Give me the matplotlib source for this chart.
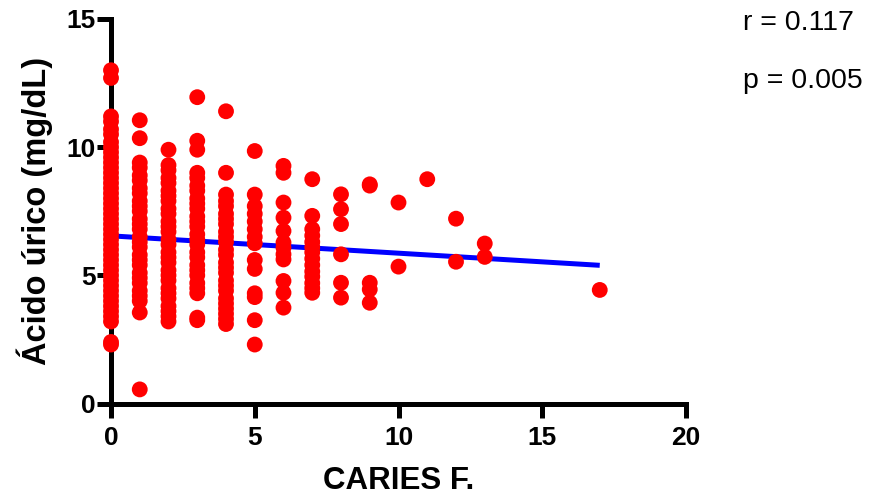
import numpy as np
import matplotlib
matplotlib.use("Agg")
import matplotlib.pyplot as plt

# Caries F. (x) y ácido úrico (mg/dL), por columna
caries_vals = [0, 1, 2, 3, 4, 5, 6, 7, 8, 9, 10, 11, 12, 13, 17]

acido_0 = [13.0, 12.7, 11.2, 11.0, 10.7, 10.5, 10.2, 10.0, 9.8, 9.6, 9.4, 9.2,
           9.0, 8.8, 8.6, 8.4, 8.2, 8.0, 7.8, 7.6, 7.4, 7.2, 7.0, 6.8, 6.6,
           6.4, 6.2, 6.0, 5.8, 5.6, 5.4, 5.2, 5.0, 4.8, 4.6, 4.4, 4.2, 4.0,
           3.8, 3.6, 3.4, 3.2, 2.4, 2.3]
acido_1 = [11.05, 10.35, 9.4, 9.2, 8.9, 8.7, 8.4, 8.2, 7.9, 7.7, 7.5, 7.2,
           7.0, 6.8, 6.5, 6.3, 6.1, 5.8, 5.6, 5.4, 5.1, 4.9, 4.7, 4.4, 4.2,
           4.0, 3.55, 0.55]
acido_2 = [9.9, 9.3, 9.1, 8.8, 8.6, 8.3, 8.1, 7.9, 7.6, 7.4, 7.1, 6.9, 6.7,
           6.4, 6.2, 5.9, 5.7, 5.5, 5.2, 5.0, 4.8, 4.5, 4.3, 4.1, 3.8, 3.6,
           3.4, 3.2]
acido_3 = [11.95, 10.25, 9.9, 9.0, 8.8, 8.5, 8.3, 8.0, 7.8, 7.6, 7.3, 7.1,
           6.9, 6.6, 6.4, 6.2, 5.9, 5.7, 5.4, 5.2, 5.0, 4.7, 4.5, 4.3, 3.35,
           3.25]
acido_4 = [11.4, 9.0, 8.15, 7.9, 7.7, 7.4, 7.2, 7.0, 6.7, 6.5, 6.3, 6.0, 5.8,
           5.5, 5.3, 5.1, 4.8, 4.6, 4.4, 4.1, 3.9, 3.7, 3.5, 3.3, 3.1]
acido_5 = [9.85, 8.15, 7.7, 7.4, 7.1, 6.8, 6.5, 6.25, 5.6, 5.25, 4.3, 4.15,
           3.25, 2.3]
acido_6 = [9.27, 9.0, 7.84, 7.25, 6.73, 6.28, 6.08, 5.82, 5.62, 4.78, 4.32,
           3.74]
acido_7 = [8.75, 7.32, 6.8, 6.55, 6.3, 6.1, 5.9, 5.65, 5.4, 5.15, 4.95, 4.7,
           4.5, 4.32]
acido_8 = [8.16, 7.58, 7.0, 5.82, 4.71, 4.13]
acido_9 = [8.55, 8.5, 4.71, 4.45, 3.93]
acido_10 = [7.84, 5.34]
acido_11 = [8.75]
acido_12 = [7.21, 5.53]
acido_13 = [6.24, 5.72]
acido_17 = [4.43]

columnas = [acido_0, acido_1, acido_2, acido_3, acido_4, acido_5, acido_6,
            acido_7, acido_8, acido_9, acido_10, acido_11, acido_12, acido_13,
            acido_17]

# Recta de regresión
intercepto = 6.54
pendiente = -0.0676
x_min_recta, x_max_recta = 0, 17

texto_r = "r = 0.117"
texto_p = "p = 0.005"

x = np.concatenate([[c] * len(col) for c, col in zip(caries_vals, columnas)])
y = np.concatenate(columnas)

plt.rcParams['font.family'] = ['Liberation Sans', 'DejaVu Sans']

fig = plt.figure(figsize=(8.74, 4.99), dpi=100)
ax = fig.add_axes([111 / 874, 1 - 403.5 / 499, 575 / 874, 384.5 / 499])

xr = np.array([x_min_recta, x_max_recta])
ax.plot(xr, intercepto + pendiente * xr, color='#0000FF', linewidth=3.6,
        zorder=2, solid_capstyle='butt')
ax.scatter(x, y, s=130, color='#FF0000', edgecolors='none', zorder=3,
           clip_on=False)

ax.set_xlim(0, 20)
ax.set_ylim(0, 15)
ax.set_xticks([0, 5, 10, 15, 20])
ax.set_yticks([0, 5, 10, 15])

for lado in ['top', 'right']:
    ax.spines[lado].set_visible(False)
for lado in ['left', 'bottom']:
    ax.spines[lado].set_linewidth(3.6)
    ax.spines[lado].set_capstyle('projecting')

ax.tick_params(axis='both', direction='out', length=10, width=3.6)
ax.tick_params(axis='x', pad=6)
ax.tick_params(axis='y', pad=1)
for lab in ax.get_xticklabels() + ax.get_yticklabels():
    lab.set_fontsize(19)
    lab.set_fontweight('bold')

ax.set_xlabel('CARIES F.', fontsize=22.5, fontweight='bold', labelpad=12)
ax.set_ylabel('Ácido úrico (mg/dL)', fontsize=23.5, fontweight='bold',
              labelpad=10)

fig.text(743 / 874, 1 - 30 / 499, texto_r, fontsize=20.5, va='baseline')
fig.text(743 / 874, 1 - 88 / 499, texto_p, fontsize=20.5, va='baseline')

fig.savefig('out.png', dpi=100)
